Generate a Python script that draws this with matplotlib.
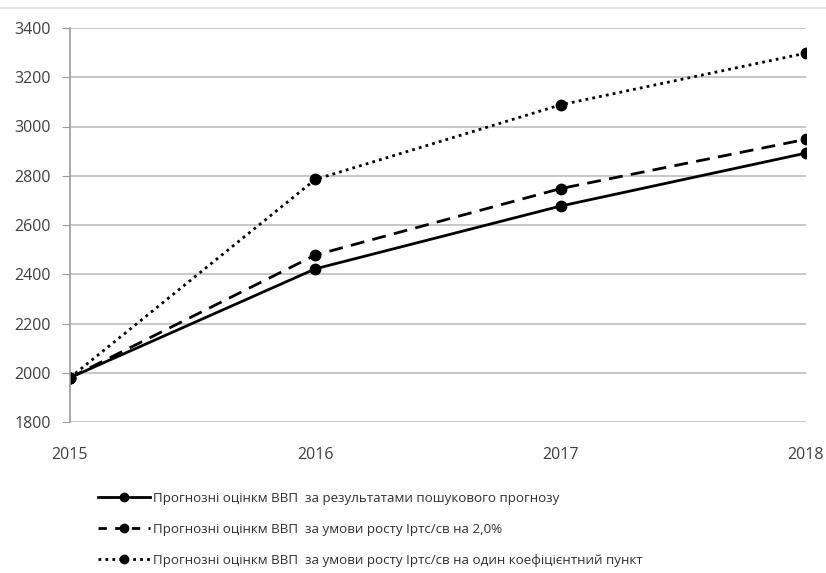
import matplotlib
matplotlib.use("Agg")
import matplotlib.pyplot as plt
from matplotlib.lines import Line2D

years = ["2015", "2016", "2017", "2018"]
search_forecast = [1980, 2422, 2677, 2892]
growth_2pct = [1980, 2478, 2748, 2948]
growth_one_point = [1980, 2785, 3088, 3298]
labels = [
    "Прогнозні оцінкм ВВП  за результатами пошукового прогнозу",
    "Прогнозні оцінкм ВВП  за умови росту Іртс/св на 2,0%",
    "Прогнозні оцінкм ВВП  за умови росту Іртс/св на один коефіцієнтний пункт",
]
yticks = [1800, 2000, 2200, 2400, 2600, 2800, 3000, 3200, 3400]

plt.rcParams['font.family'] = ['Open Sans', 'DejaVu Sans']

fig = plt.figure(figsize=(8.26, 5.73), dpi=100)
ax = fig.add_axes([70/826, 1-422/573, (806-70)/826, (422-28)/573])

x = list(range(len(years)))
styles = ["-", (0, (5, 3)), (0, (1, 1.5))]
series = [search_forecast, growth_2pct, growth_one_point]
for vals, ls in zip(series, styles):
    ax.plot(x, vals, color="black", linestyle=ls, linewidth=2.0,
            marker="o", markersize=7.5)

ax.set_xlim(0, 3)
ax.set_ylim(1800, 3400)
ax.set_yticks(yticks)
ax.set_xticks(x)
ax.set_xticklabels(years)
ax.yaxis.grid(True, color="#bdbdbd", linewidth=1.2)
ax.set_axisbelow(True)
for s in ["top", "right", "bottom"]:
    ax.spines[s].set_visible(False)
ax.spines["left"].set_color("#9a9a9a")
ax.spines["left"].set_linewidth(1.2)
ax.tick_params(axis="y", length=6, color="#9a9a9a", labelsize=11.5, labelcolor="#404040", pad=8)
ax.tick_params(axis="x", length=0, labelsize=11.5, labelcolor="#404040", pad=18)

# faint top border line
fig.add_artist(Line2D([0, 1], [1-8/573, 1-8/573], color="#e0e0e0", linewidth=1.2))

handles = [
    Line2D([], [], color="black", linestyle="-", linewidth=2.0, marker="o", markersize=6),
    Line2D([], [], color="black", linestyle=(0, (3, 3)), linewidth=2.0, marker="o", markersize=6),
    Line2D([], [], color="black", linestyle=(0, (1, 1.5)), linewidth=2.0, marker="o", markersize=6),
]
fig.legend(handles, labels, loc="upper left", bbox_to_anchor=(86/826, 1-480/573),
           frameon=False, fontsize=9.6, handlelength=3.9, handletextpad=0.25,
           labelspacing=1.35, labelcolor="#303030")

fig.savefig("out.png", dpi=100)
